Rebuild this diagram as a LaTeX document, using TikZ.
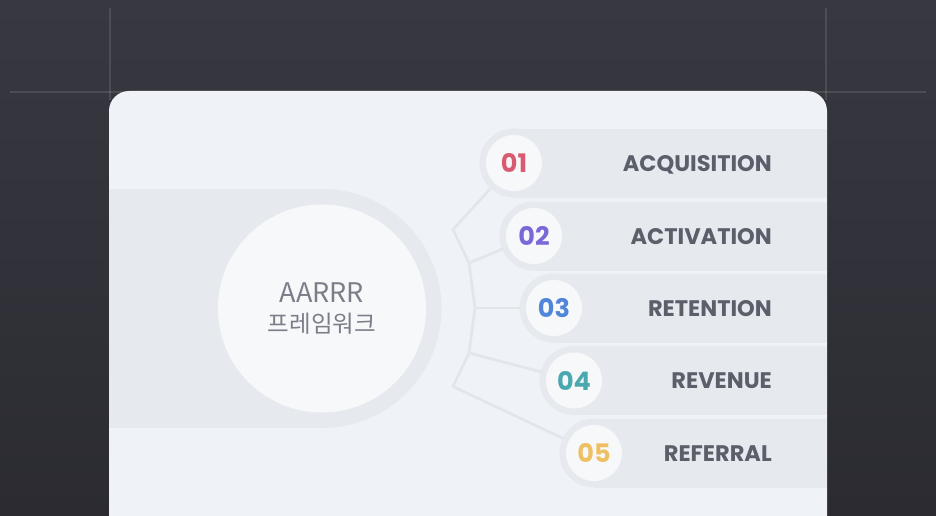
\documentclass[tikz,border=0pt]{standalone}
\usepackage{fontspec}
\newfontfamily\kr{Noto Sans CJK KR}
\newfontfamily\pop{Poppins}
\definecolor{bgtop}{HTML}{383842}
\definecolor{bgbot}{HTML}{2B2B31}
\definecolor{card}{HTML}{EFF2F6}
\definecolor{band}{HTML}{E6E9EE}
\definecolor{disc}{HTML}{F6F8FA}
\definecolor{wire}{HTML}{E2E5EA}
\definecolor{numfill}{HTML}{F7F8FA}
\definecolor{lbl}{HTML}{5C5F6A}
\definecolor{ctext}{HTML}{7B7E88}
\definecolor{c1}{HTML}{D95B6F}
\definecolor{c2}{HTML}{7A68D8}
\definecolor{c3}{HTML}{4F86D9}
\definecolor{c4}{HTML}{4AA8AF}
\definecolor{c5}{HTML}{EEC062}
\begin{document}
\begin{tikzpicture}[x=1pt,y=-1pt,
  halo/.style={circle, fill=band, minimum size=69pt, inner sep=0pt},
  numdisc/.style={circle, fill=numfill, minimum size=56pt, inner sep=0pt,
    font=\pop\bfseries\fontsize{25.5}{26}\selectfont},
  lbltext/.style={anchor=base east, text=lbl, inner sep=0pt,
    font=\pop\bfseries\fontsize{22.5}{25}\selectfont},
  wireline/.style={draw=wire, line width=2.6pt, line join=round, line cap=round},
  guide/.style={draw=white, opacity=0.11, line width=1.2pt}]
\useasboundingbox (0,0) rectangle (936,516);
\clip (0,0) rectangle (936,516);
% background
\shade[top color=bgtop, bottom color=bgbot] (0,0) rectangle (936,516);
\draw[guide] (10,92) -- (926,92);
\draw[guide] (110,8) -- (110,100);
\draw[guide] (826,8) -- (826,100);
% card
\fill[card, rounded corners=20pt] (109,91) rectangle (827,560);
% left band with ring
\fill[band] (109,189) rectangle (322,428);
\fill[band] (322,308.5) circle (119.5);
% bars
\foreach \cx/\cy in {514/163, 534/236, 554/308, 574/380.5, 594/453}{
  \fill[band] (\cx,\cy-34.5) rectangle (827,\cy+34.5);
}
\node[halo] (h1) at (514,163) {};
\node[halo] (h2) at (534,236) {};
\node[halo] (h3) at (554,308) {};
\node[halo] (h4) at (574,380.5) {};
\node[halo] (h5) at (594,453) {};
% connectors
\coordinate (a1) at (453,229.5);
\coordinate (a2) at (469,263);
\coordinate (a3) at (475,308);
\coordinate (a4) at (469,353);
\coordinate (a5) at (453,386.5);
\draw[wireline] (a1) -- (a2) -- (a3) -- (a4) -- (a5);
\draw[wireline] (a1) -- (h1);
\draw[wireline] (a2) -- (h2);
\draw[wireline] (a3) -- (h3);
\draw[wireline] (a4) -- (h4);
\draw[wireline] (a5) -- (h5);
% centre disc
\node[circle, fill=disc, minimum size=208pt, inner sep=0pt] (hub) at (322,308.5) {};
\node[align=center, text=ctext, inner sep=0pt, font=\kr\fontsize{27}{30}\selectfont] (hubtext) at (322,309)
  {AARRR\\{\fontsize{23.5}{30}\selectfont 프레임워크}};
% number discs
\node[numdisc, text=c1] (n1) at (h1) {01};
\node[numdisc, text=c2] (n2) at (h2) {02};
\node[numdisc, text=c3] (n3) at (h3) {03};
\node[numdisc, text=c4] (n4) at (h4) {04};
\node[numdisc, text=c5] (n5) at (h5) {05};
% labels
\node[lbltext] (l1) at (772,171) {ACQUISITION};
\node[lbltext] (l2) at (772,244) {ACTIVATION};
\node[lbltext] (l3) at (772,316) {RETENTION};
\node[lbltext] (l4) at (772,388.5) {REVENUE};
\node[lbltext] (l5) at (772,461) {REFERRAL};
\end{tikzpicture}
\end{document}
